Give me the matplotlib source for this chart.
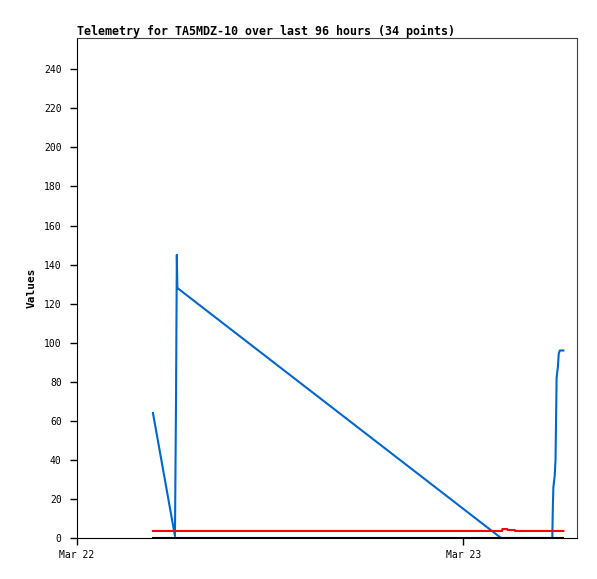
import numpy as np
import pandas as pd
import matplotlib
matplotlib.use("Agg")
import matplotlib.pyplot as plt
import matplotlib.dates as mdates

# Telemetry samples (times on Mar 22/23)
blue_times = ["2024-03-22 04:43", "2024-03-22 06:05", "2024-03-22 06:09",
              "2024-03-22 06:12", "2024-03-22 06:14", "2024-03-23 02:20",
              "2024-03-23 05:31", "2024-03-23 05:33", "2024-03-23 05:35",
              "2024-03-23 05:40", "2024-03-23 05:43", "2024-03-23 05:47",
              "2024-03-23 05:52", "2024-03-23 05:55", "2024-03-23 05:59",
              "2024-03-23 06:12"]
blue_vals = [64, 1, 72, 145, 128, 0, 0, 16, 26, 32, 40, 82, 88, 94.5, 96, 96]

red_times = ["2024-03-22 04:43", "2024-03-23 02:24", "2024-03-23 02:25",
             "2024-03-23 02:43", "2024-03-23 02:44", "2024-03-23 03:11",
             "2024-03-23 03:12", "2024-03-23 06:12"]
red_vals = [3.6, 3.6, 4.6, 4.6, 4.1, 4.1, 3.6, 3.6]

black_times = ["2024-03-22 04:43", "2024-03-23 06:12"]
black_vals = [0, 0]

yticks = list(range(0, 241, 20))
title = "Telemetry for TA5MDZ-10 over last 96 hours (34 points)"

plt.rcParams["font.family"] = ["DejaVu Sans Mono"]

fig = plt.figure(figsize=(5.97, 5.79), dpi=100)
ax = fig.add_axes([77 / 597, 41 / 579, 500 / 597, 500 / 579])

ax.plot(pd.to_datetime(blue_times), blue_vals, color="#0066CC", lw=1.5)
ax.plot(pd.to_datetime(red_times), red_vals, color="#FF0000", lw=1.5)
ax.plot(pd.to_datetime(black_times), black_vals, color="black", lw=1.5)

ax.set_xlim(pd.Timestamp("2024-03-22 00:00"), pd.Timestamp("2024-03-23 07:03"))
ax.set_ylim(0, 256)
ax.set_yticks(yticks)
ax.xaxis.set_major_locator(mdates.DayLocator())
ax.xaxis.set_major_formatter(mdates.DateFormatter("%b %d"))

ax.tick_params(direction="out", length=5, width=1, labelsize=7, pad=6)
ax.tick_params(axis="x", pad=4)
for side in ("top", "right"):
    ax.spines[side].set_color("#404040")
for side in ("left", "bottom"):
    ax.spines[side].set_color("black")

ax.set_title(title, loc="left", fontsize=8.35, fontweight="bold", pad=2)
ax.set_ylabel("Values", fontsize=8, fontweight="bold", labelpad=5)

fig.savefig("out.png", dpi=100)
